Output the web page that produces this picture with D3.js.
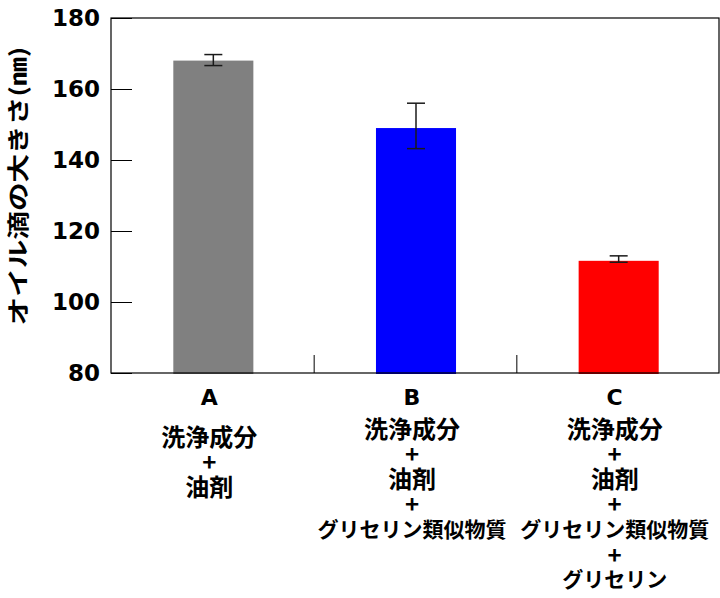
<!DOCTYPE html>
<html><head><meta charset="utf-8">
<script src="https://cdn.jsdelivr.net/npm/d3@7"></script>
<style>body{margin:0;background:#fff}</style>
</head><body>
<svg id="chart" width="720" height="598"></svg>
<script>
// ---- data ----
const categories = ["A", "B", "C"];
const values = [168, 149, 111.6];
const errorHigh = [169.7, 156, 113];
const errorLow = [166.6, 143.2, 111.2];
const barColors = ["#808080", "#0000ff", "#ff0000"];
const yTicks = [80, 100, 120, 140, 160, 180];
const yTitle = "オイル滴の大きさ(㎚)";
const labelLines = [
  ["洗浄成分", "+", "油剤"],
  ["洗浄成分", "+", "油剤", "+", "グリセリン類似物質"],
  ["洗浄成分", "+", "油剤", "+", "グリセリン類似物質", "+", "グリセリン"]
];

// ---- layout ----
const plot = {left: 111, right: 719, top: 18, bottom: 373};
const labelStartY = [435, 427, 427];
const lineStep = 25.2;
const jpFont = "'Noto Sans CJK JP', sans-serif";
const latFont = "'DejaVu Sans', sans-serif";

const svg = d3.select("#chart");
svg.append("rect").attr("width", 720).attr("height", 598).attr("fill", "#fff");

const y = d3.scaleLinear().domain([80, 180]).range([plot.bottom, plot.top]);
const pi = 0.605;
const x = d3.scaleBand().domain(categories).range([plot.left + 1, plot.right + 1])
  .paddingInner(pi).paddingOuter(pi / 2);
const step = x.step();

// bars
svg.append("g").selectAll("rect").data(categories).join("rect")
  .attr("x", d => x(d))
  .attr("width", x.bandwidth())
  .attr("y", (d, i) => y(values[i]))
  .attr("height", (d, i) => y(80) - y(values[i]) + 1)
  .attr("fill", (d, i) => barColors[i]);

// error bars
const eb = svg.append("g").attr("stroke", "#1a1a1a").attr("stroke-width", 1.5);
categories.forEach((c, i) => {
  const cx = x(c) + x.bandwidth() / 2;
  eb.append("line").attr("x1", cx).attr("x2", cx).attr("y1", y(errorHigh[i])).attr("y2", y(errorLow[i]));
  eb.append("line").attr("x1", cx - 9).attr("x2", cx + 9).attr("y1", y(errorHigh[i])).attr("y2", y(errorHigh[i]));
  eb.append("line").attr("x1", cx - 9).attr("x2", cx + 9).attr("y1", y(errorLow[i])).attr("y2", y(errorLow[i]));
});

// frame
svg.append("rect").attr("x", plot.left).attr("y", plot.top)
  .attr("width", plot.right - plot.left).attr("height", plot.bottom - plot.top)
  .attr("fill", "none").attr("stroke", "#000").attr("stroke-width", 1.2);

// category dividers
svg.append("g").selectAll("line").data(categories.slice(0, -1)).join("line")
  .attr("x1", d => x(d) + x.bandwidth() + step * pi / 2 - 0.5)
  .attr("x2", d => x(d) + x.bandwidth() + step * pi / 2 - 0.5)
  .attr("y1", plot.bottom).attr("y2", plot.bottom - 18)
  .attr("stroke", "#000").attr("stroke-width", 1);

// y axis
const yAxis = svg.append("g").attr("transform", `translate(${plot.left},0)`)
  .call(d3.axisLeft(y).tickValues(yTicks).tickSizeInner(-21).tickSizeOuter(0).tickPadding(11));
yAxis.select(".domain").remove();
yAxis.selectAll(".tick line").attr("stroke", "#000").attr("stroke-width", 1);
yAxis.selectAll(".tick text").attr("font-family", latFont).attr("font-weight", "bold")
  .attr("font-size", 23).attr("fill", "#000");

// y title
svg.append("text")
  .attr("transform", "translate(16,186) rotate(-90) scale(1.3,1)")
  .attr("text-anchor", "middle").attr("dominant-baseline", "central")
  .attr("font-family", jpFont).attr("font-weight", "bold").attr("font-size", 22)
  .attr("fill", "#000").text(yTitle);

// category labels
const hasKana = t => /[\u30A0-\u30FF]/.test(t);
categories.forEach((c, i) => {
  const cx = x(c) + x.bandwidth() / 2;
  svg.append("text").attr("x", cx - 4).attr("y", 397)
    .attr("text-anchor", "middle").attr("dominant-baseline", "central")
    .attr("font-family", latFont).attr("font-weight", "bold").attr("font-size", 22)
    .attr("fill", "#000").text(c);
  labelLines[i].forEach((t, j) => {
    svg.append("text").attr("x", cx - 4).attr("y", labelStartY[i] + j * lineStep)
      .attr("text-anchor", "middle").attr("dominant-baseline", "central")
      .attr("font-family", jpFont).attr("font-weight", "bold")
      .attr("font-size", hasKana(t) ? 21 : 24)
      .attr("fill", "#000").text(t);
  });
});
</script>
</body></html>
